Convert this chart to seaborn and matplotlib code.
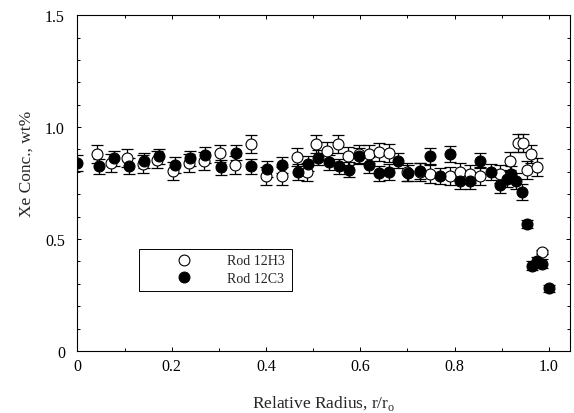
import numpy as np
import pandas as pd
import matplotlib
matplotlib.use("Agg")
import matplotlib.pyplot as plt
import seaborn as sns
from matplotlib.ticker import MultipleLocator, FuncFormatter
from matplotlib.lines import Line2D

# Rod 12H3 (open circles)
h3_x = [0.041, 0.072, 0.106, 0.138, 0.169, 0.203, 0.237, 0.269, 0.303, 0.335,
        0.368, 0.400, 0.434, 0.465, 0.487, 0.506, 0.529, 0.552, 0.575, 0.597,
        0.619, 0.640, 0.660, 0.700, 0.727, 0.747, 0.791, 0.812, 0.833, 0.855,
        0.897, 0.917, 0.934, 0.945, 0.954, 0.962, 0.975, 0.986]
h3_y = [0.88, 0.84, 0.86, 0.835, 0.855, 0.805, 0.838, 0.85, 0.882, 0.83,
        0.924, 0.783, 0.783, 0.865, 0.80, 0.924, 0.894, 0.924, 0.869, 0.88,
        0.88, 0.89, 0.886, 0.80, 0.80, 0.79, 0.78, 0.80, 0.79, 0.78,
        0.79, 0.85, 0.93, 0.93, 0.81, 0.88, 0.82, 0.443]
h3_err = [0.04] * 37 + [0.01]

# Rod 12C3 (filled circles)
c3_x = [0.0, 0.046, 0.078, 0.11, 0.142, 0.173, 0.207, 0.239, 0.271, 0.305,
        0.337, 0.368, 0.402, 0.435, 0.468, 0.49, 0.51, 0.533, 0.554, 0.576,
        0.598, 0.619, 0.64, 0.661, 0.681, 0.702, 0.727, 0.748, 0.77, 0.791,
        0.812, 0.833, 0.855, 0.877, 0.897, 0.911, 0.92, 0.931, 0.943, 0.954,
        0.965, 0.975, 0.985, 1.0]
c3_y = [0.84, 0.824, 0.86, 0.827, 0.85, 0.869, 0.832, 0.86, 0.875, 0.82,
        0.886, 0.824, 0.812, 0.83, 0.80, 0.837, 0.864, 0.842, 0.824, 0.81,
        0.872, 0.83, 0.793, 0.80, 0.85, 0.795, 0.805, 0.872, 0.78, 0.88,
        0.76, 0.76, 0.85, 0.80, 0.74, 0.768, 0.79, 0.76, 0.71, 0.567,
        0.38, 0.40, 0.39, 0.28]
c3_err = [0.035] * 39 + [0.02, 0.02, 0.02, 0.02, 0.015]

labels = ["Rod 12H3", "Rod 12C3"]

df = pd.concat([
    pd.DataFrame({"r": h3_x, "xe": h3_y, "err": h3_err, "rod": labels[0]}),
    pd.DataFrame({"r": c3_x, "xe": c3_y, "err": c3_err, "rod": labels[1]}),
], ignore_index=True)

sns.set_style("ticks")
plt.rcParams["font.family"] = ["Liberation Serif", "DejaVu Serif"]
plt.rcParams["mathtext.fontset"] = "custom"
plt.rcParams["mathtext.rm"] = "Liberation Serif"

fig = plt.figure(figsize=(5.74, 4.14), dpi=100)
ax = fig.add_axes([0.135, 0.150, 0.858, 0.811])

face = {labels[0]: "white", labels[1]: "black"}
for lab in labels:
    sub = df[df["rod"] == lab]
    ax.errorbar(sub["r"], sub["xe"], yerr=sub["err"], fmt="none",
                ecolor="black", elinewidth=0.9, capsize=4.5, capthick=0.9,
                zorder=2)
    sns.scatterplot(data=sub, x="r", y="xe", ax=ax, marker="o", s=62,
                    color=face[lab], edgecolor="black", linewidth=0.8,
                    zorder=3, legend=False)

ax.set_xlim(0, 1.045)
ax.set_ylim(0, 1.5)
ax.xaxis.set_major_locator(MultipleLocator(0.2))
ax.xaxis.set_minor_locator(MultipleLocator(0.1))
ax.yaxis.set_major_locator(MultipleLocator(0.5))
ax.yaxis.set_minor_locator(MultipleLocator(0.1))
fmt = FuncFormatter(lambda v, p: "0" if abs(v) < 1e-9 else f"{v:.1f}")
ax.xaxis.set_major_formatter(fmt)
ax.yaxis.set_major_formatter(fmt)
ax.tick_params(which="both", direction="in", top=True, right=True,
               width=0.7, colors="black", labelsize=11.5)
ax.tick_params(which="major", length=3)
ax.tick_params(which="minor", length=2)
ax.tick_params(axis="x", pad=5)
ax.tick_params(axis="y", pad=9)
for s in ax.spines.values():
    s.set_visible(True)
    s.set_linewidth(0.8)
    s.set_color("black")

ax.set_xlabel("Relative Radius, r/r$_\\mathregular{o}$", fontsize=12.5)
ax.set_ylabel("Xe Conc., wt%", fontsize=12.5)
ax.xaxis.set_label_coords(0.5, -0.125)
ax.yaxis.set_label_coords(-0.088, 0.56)

handles = [
    Line2D([], [], linestyle="none", marker="o", markersize=7.8,
           markerfacecolor="white", markeredgecolor="black", markeredgewidth=0.8),
    Line2D([], [], linestyle="none", marker="o", markersize=7.8,
           markerfacecolor="black", markeredgecolor="black", markeredgewidth=0.8),
]
leg = ax.legend(handles, labels, loc="lower left",
                bbox_to_anchor=(0.125, 0.179, 0.311, 0.137), mode="expand",
                borderaxespad=0, fontsize=10, frameon=True, fancybox=False,
                edgecolor="black", framealpha=1, handlelength=5.7,
                handletextpad=0.2, borderpad=0.4, labelspacing=0.35)
leg.get_frame().set_linewidth(0.7)

fig.savefig("out.png", dpi=100)
